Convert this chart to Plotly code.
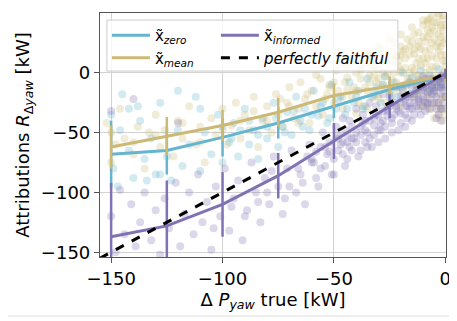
import plotly.graph_objects as go

# binned means with std (error bars)
x_bins = [-150, -125, -100, -75, -50, -25, 0]
zero_mean = [-68, -65, -54, -42, -28, -14, -2]
zero_err = [28, 20, 16, 13, 10, 7, 4]
mean_mean = [-62, -53, -44, -33, -19, -11, -2]
mean_err = [18, 16, 13, 12, 10, 8, 6]
inf_mean = [-137, -128, -110, -86, -57, -28, -1]
inf_err = [45, 38, 27, 19, 15, 10, 4]

faithful_x = [-155, 0]
faithful_y = [-155, 0]

# individual samples
mean_pts_x = [-152, -148, -150, -146, -144, -140, -138, -135, -133, -130, -128, -126, -122, -120, -118, -115,
              -112, -110, -108, -105, -103, -100, -98, -96, -94, -92, -90, -88, -86, -84, -82, -80, -78, -76,
              -75, -73, -71, -70, -68, -66, -65, -63, -61, -60, -58, -56, -55, -53, -52, -50, -49, -48, -46,
              -45, -44, -42, -41, -40, -39, -38, -36, -35, -34, -33, -32, -31, -30, -29, -28, -27, -26, -25,
              -24, -23, -22, -21, -20, -19, -18, -17, -16, -15, -14, -13, -12, -11, -10, -9, -8, -7, -6, -5,
              -4, -3, -2, -1, 0, -1, -2, -3, -4, -5, -6, -7, -8, -9, -10, -11, -12, -13, -14, 0, -1, -2, 0, -3,
              -6, -9, -12, -1, -2, -4, -5, -7, -8, -10, -15, -18, -20, -22, -26, -30, -35, -40,
              -58, -55, -52, -48, -46, -44, -42, -40, -38, -37, -35, -34, -32, -30, -29, -28, -27, -26, -24,
              -23, -22, -21, -20, -19, -18, -17, -16, -15, -14, -13, -12, -11, -10, -9, -8, -7, -6, -5, -4,
              -3, -2, -1, 0, 0, -1, -2, -3, -4, -6, -8, -10, -12, -14, -16, -18, -20, -24, -28, -32, -36, -44,
              -50, -54, -62, -66, -70, -74, -80, -86, -92, -100, -110, -118, -130, -140, -150,
              -45, -40, -35, -30, -25, -20, -15, -10, -6, -3, -8, -12, -18, -22, -28, -33, -38, -5, -2, -1,
              0, -4, -7, -9, -11, -6, -3, 0, -2, -1, -5, -8, 0, -3, -14, -16, -20, -26, -30, -34]
mean_pts_y = [-42, -60, -75, -30, -55, -68, -45, -80, -50, -35, -62, -48, -70, -40, -55, -28,
              -60, -45, -75, -38, -52, -30, -60, -44, -25, -55, -35, -48, -20, -62, -40, -28, -50, -18,
              -35, -45, -25, -12, -38, -30, -8, -22, -42, -15, -28, -5, -35, -18, -10, -25, 2, -15, -30,
              -8, 5, -20, -12, 0, -25, -5, 8, -15, -2, 12, -20, -8, 3, 15, -12, -3, 8, -18,
              18, 0, -8, 10, 22, -14, 4, -5, 15, 26, -10, 8, -2, 20, 30, -12, 12, 2, 25, 35,
              -8, 18, 40, -20, 28, 10, -30, 32, 5, -15, 14, -22, 30, 0, -25, 6, 22, -18, 16, -35, 45, 15, 5, -5,
              38, 26, 34, 48, 22, 42, -38, 33, 44, 12, 4, -10, 0, 14, -28, -22, -30, -34,
              -2, 5, -12, 8, -20, -4, 10, -15, 2, -28, 14, -8, 5, -18, 20, 0, -25, 12, -6,
              25, -15, 5, -28, 18, -10, 28, 0, -20, 32, -2, 12, -28, 40, 18, -18, 45, 5, 28, -25,
              48, -12, 35, 15, -20, -40, 30, -35, 22, -30, 42, -5, -15, 2, 22, 12, 2, 10, -10, -2, -12, -14,
              -8, -22, -18, -42, -28, -22, -40, -32, -40, -48, -58, -42, -52, -58, -50,
              8, 12, 18, 22, 28, 32, 38, 44, 48, 50, 36, 26, 20, 14, 10, 6, 4, 42, 38, 25,
              40, 12, 20, 8, -8, -12, -28, -30, -22, 0, -2, -30, 10, 25, 20, -5, 15, 0, -5, 15]

zero_pts_x = [-150, -149, -147, -145, -142, -140, -137, -135, -132, -130, -128, -125, -123, -120, -118, -115,
              -112, -110, -108, -105, -102, -100, -97, -95, -93, -90, -88, -86, -84, -82, -80, -77, -75, -73,
              -71, -69, -67, -65, -63, -61, -59, -57, -55, -53, -51, -49, -47, -45, -43, -41, -39, -37, -35,
              -33, -31, -29, -27, -25, -23, -21, -19, -17, -15, -13, -11, -9, -7, -5, -3, -1, -146, -138, -120,
              -100, -96, -92, -88, -84, -80, -76, -72, -68, -64, -60, -56, -52, -48, -44, -40, -36, -32, -28,
              -24, -20, -16, -12, -8, -4, -2, -110, -128, -142, -134]
zero_pts_y = [-35, -80, -95, -18, -65, -88, -40, -72, -55, -85, -25, -70, -90, -48, -78, -60,
              -20, -82, -50, -68, -35, -75, -58, -42, -70, -30, -60, -48, -72, -38, -55, -25, -62, -45,
              -33, -52, -20, -40, -30, -48, -15, -36, -25, -42, -10, -30, -20, -35, -8, -25, -15, -30, -5,
              -20, -12, -25, -3, -15, -8, -20, 0, -10, -4, -15, 2, -8, -2, -12, 3, -5, -48, -28, -15,
              -45, -55, -48, -40, -52, -45, -38, -50, -32, -45, -35, -28, -38, -22, -30, -20, -28, -18, -10,
              -20, -12, -18, -6, -14, -6, -10, -30, -85, -30, -90]

inf_pts_x = [-150, -148, -146, -144, -141, -139, -137, -135, -132, -130, -128, -126, -124, -121, -119, -117,
             -115, -113, -111, -109, -107, -105, -103, -101, -99, -97, -95, -93, -91, -89, -87, -85, -83, -81,
             -79, -77, -75, -73, -71, -69, -67, -65, -63, -61, -59, -57, -55, -53, -51, -49, -47, -45, -43,
             -41, -39, -37, -35, -33, -31, -29, -27, -25, -23, -21, -19, -17, -15, -13, -11, -9, -7, -5, -3,
             -1, -2, -4, -6, -8, -10, -12, -14, -16, -18, -20, -22, -24, -26, -28, -30, -32, -34, -36, -38,
             -40, -42, -44, -46, -150, -140, -120, -60, -54, -48, -44, -36, -30, -26, -22, -18, -14, -10, -6,
             -3, -1, -2, -5, -8, -12, -16, -20,
             -62, -58, -56, -54, -52, -50, -48, -46, -45, -43, -42, -40, -38, -37, -35, -34, -32, -31, -29,
             -28, -27, -25, -24, -23, -21, -20, -19, -18, -17, -16, -15, -14, -13, -12, -11, -10, -9, -8,
             -7, -6, -5, -4, -3, -2, -1, 0, 0, -1, -2, -4, -6, -8, -10, -70, -66, -72, -80, -90, -96, -104,
             -78, -84, -64, -58, -50,
             -1, -2, -3, -4, -5, -6, -7, -8, -9, -10, -11, -12, -13, -14, -15, -16, -17, -18, -20, -22,
             -24, -26, -28, -30, -32, -34, -36, -38, -40, -42, -44, -46, -48, -52, -56, -60, 0, -1, -2, -3]
inf_pts_y = [-120, -150, -98, -135, -110, -145, -125, -100, -140, -115, -152, -105, -130, -92, -145, -118,
             -100, -135, -85, -125, -108, -148, -95, -120, -80, -132, -105, -90, -140, -115, -75, -100, -125, -88,
             -110, -70, -95, -118, -80, -65, -100, -85, -110, -60, -75, -95, -50, -68, -85, -45, -60, -78, -40,
             -55, -70, -35, -50, -62, -28, -42, -55, -20, -35, -48, -15, -28, -40, -10, -22, -32, -5, -15, -25,
             -2, -8, -38, -12, -20, -3, -30, -18, -8, -35, -25, -12, -42, -30, -18, -48, -38, -25, -58, -45,
             -30, -65, -52, -38, -32, -22, -42, -72, -62, -52, -58, -40, -36, -32, -28, -22, -20, -14, -10,
             -6, -4, -12, -18, -26, -24, -30, -34,
             -70, -88, -62, -78, -58, -72, -55, -68, -48, -62, -45, -58, -52, -42, -62, -40, -52, -35, -48,
             -32, -45, -28, -38, -25, -32, -42, -22, -28, -38, -18, -30, -25, -15, -22, -35, -12, -25, -10,
             -30, -18, -8, -20, -12, -30, -10, -5, -20, -25, -3, -12, -25, -16, -28, -95, -80, -105, -100,
             -120, -112, -130, -82, -108, -92, -66, -85,
             -15, -18, -5, -30, -25, -5, -15, -25, -5, -20, -15, -8, -28, -35, -12, -25, -20, -45, -20, -30,
             -50, -36, -40, -58, -44, -55, -48, -65, -50, -55, -72, -58, -65, -66, -80, -75, -12, -30, -40, -35]

c_zero = "#64B5CD"
c_mean = "#CCB974"
c_inf = "#8172B3"

fig = go.Figure()

for px_, py_, c in [(mean_pts_x, mean_pts_y, c_mean), (zero_pts_x, zero_pts_y, c_zero), (inf_pts_x, inf_pts_y, c_inf)]:
    fig.add_trace(go.Scatter(x=px_, y=py_, mode="markers", showlegend=False,
                             marker=dict(size=8, color=c, opacity=0.28, line=dict(width=0)),
                             hoverinfo="skip"))

def line_trace(y, err, c, name, leg):
    return go.Scatter(x=x_bins, y=y, mode="lines", name=name, legend=leg,
                      line=dict(color=c, width=3),
                      error_y=dict(type="data", array=err, color=c, thickness=2.5, width=0))

fig.add_trace(line_trace(zero_mean, zero_err, c_zero, "x\u0303<sub><i>zero</i></sub>", "legend"))
fig.add_trace(line_trace(mean_mean, mean_err, c_mean, "x\u0303<sub><i>mean</i></sub>", "legend"))
fig.add_trace(line_trace(inf_mean, inf_err, c_inf, "x\u0303<sub><i>informed</i></sub>", "legend2"))
fig.add_trace(go.Scatter(x=faithful_x, y=faithful_y, mode="lines", name="<i>perfectly faithful</i>",
                         legend="legend2", line=dict(color="black", width=3, dash="dash")))

axis_style = dict(showline=True, mirror=True, linecolor="#555", linewidth=1.2,
                  showgrid=True, gridcolor="#d3d3d3", gridwidth=1, automargin=False,
                  ticks="outside", ticklen=5, tickcolor="#555", zeroline=False,
                  tickfont=dict(size=18, color="black"))

fig.update_xaxes(range=[-155, 0.3], tickvals=[-150, -100, -50, 0],
                 title=dict(text="\u0394 <i>P</i><sub><i>yaw</i></sub> true [kW]", font=dict(size=18, color="black"),
                            standoff=2),
                 **axis_style)
fig.update_yaxes(range=[-154, 50], tickvals=[-150, -100, -50, 0],
                 title=dict(text="Attributions <i>R</i><sub>\u0394<i>yaw</i></sub> [kW]", font=dict(size=18, color="black"),
                            standoff=6),
                 **axis_style)

leg_common = dict(orientation="v", yanchor="top", xanchor="left", bgcolor="rgba(0,0,0,0)",
                  borderwidth=0, font=dict(size=15), itemwidth=38, tracegroupgap=0)

fig.update_layout(
    width=449, height=313,
    margin=dict(l=92, r=11, t=5, b=64),
    plot_bgcolor="white", paper_bgcolor="white",
    font=dict(family="DejaVu Sans", color="black"),
    legend=dict(x=0.02, y=0.975, **leg_common),
    legend2=dict(x=0.335, y=0.975, **leg_common),
    shapes=[
        dict(type="rect", xref="paper", yref="paper", x0=0.02, x1=0.861, y0=0.762, y1=0.971,
             fillcolor="rgba(255,255,255,0.8)", line=dict(color="#cccccc", width=1), layer="above"),
        dict(type="line", xref="paper", yref="paper", x0=1.017, x1=1.017, y0=-0.245, y1=1.03,
             line=dict(color="#dddddd", width=1)),
        dict(type="line", xref="paper", yref="paper", x0=-0.27, x1=1.017, y0=-0.242, y1=-0.242,
             line=dict(color="#dddddd", width=1)),
    ],
)

fig.write_html("out.html")
